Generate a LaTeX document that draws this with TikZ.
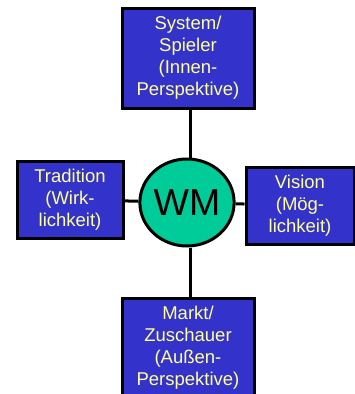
\documentclass[tikz,border=0pt]{standalone}
\usepackage{fontspec}
\setmainfont{Liberation Sans}
\usetikzlibrary{shapes.geometric}
\definecolor{boxblue}{HTML}{3333CC}
\definecolor{txtyellow}{HTML}{FFFF99}
\definecolor{wmgreen}{HTML}{00CC99}
\begin{document}
\begin{tikzpicture}[x=1pt,y=-1pt,
  box/.style={draw=black,line width=3pt,fill=boxblue,text=txtyellow,align=center,
    font=\fontsize{18.5}{22}\selectfont,inner sep=0pt},
  conn/.style={draw=black,line width=3pt}]
\useasboundingbox (0,0) rectangle (355,394);
\begin{scope}
\clip (0,0) rectangle (355,394);
\node[box,minimum width=132pt,minimum height=100pt] (top) at (188,58) {System/\\Spieler\\(Innen-\\Perspektive)};
\node[box,minimum width=106pt,minimum height=77pt] (left) at (70,199.5) {Tradition\\(Wirk-\\lichkeit)};
\node[box,minimum width=108pt,minimum height=77pt] (right) at (300,205.5) {Vision\\(Mög-\\lichkeit)};
\node[box,minimum width=132pt,minimum height=100pt] (bottom) at (188,348) {Markt/\\Zuschauer\\(Außen-\\Perspektive)};
\node[ellipse,draw=black,line width=3pt,fill=wmgreen,minimum width=91pt,minimum height=87pt,inner sep=0pt,
  font=\fontsize{37.5}{40}\selectfont] (wm) at (187,202.5) {WM};
\draw[conn] (wm.north -| 190,0) -- (top.south -| 190,0);
\draw[conn] (wm.south -| 190,0) -- (bottom.north -| 190,0);
\draw[conn] (wm) -- (left);
\draw[conn] (wm) -- (right);
\end{scope}
\end{tikzpicture}
\end{document}
